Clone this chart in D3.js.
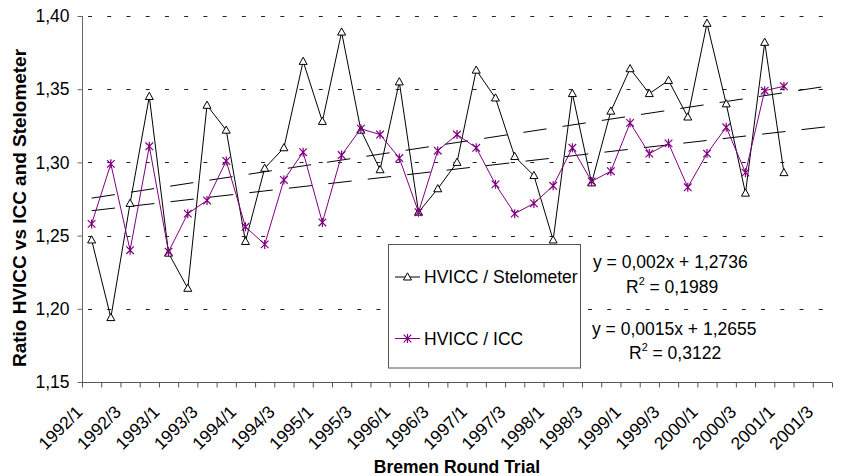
<!DOCTYPE html>
<html><head><meta charset="utf-8">
<script src="https://cdn.jsdelivr.net/npm/d3@7"></script>
<style>
body{margin:0;background:#fff}
svg{display:block}
text{font-family:"Liberation Sans",Arial,Helvetica,sans-serif;fill:#000}
</style>
</head><body>
<svg id="chart" width="842" height="476"></svg>
<script>
// ---- data ----
const categories = [
  "1992/1","1992/2","1992/3","1992/4","1993/1","1993/2","1993/3","1993/4",
  "1994/1","1994/2","1994/3","1994/4","1995/1","1995/2","1995/3","1995/4",
  "1996/1","1996/2","1996/3","1996/4","1997/1","1997/2","1997/3","1997/4",
  "1998/1","1998/2","1998/3","1998/4","1999/1","1999/2","1999/3","1999/4",
  "2000/1","2000/2","2000/3","2000/4","2001/1","2001/2","2001/3"
];
const stelometer = [
  1.247,1.194,1.272,1.345,1.238,1.214,1.339,1.322,
  1.246,1.296,1.310,1.369,1.328,1.389,1.322,1.295,
  1.355,1.266,1.282,1.300,1.363,1.344,1.304,1.291,
  1.247,1.347,1.286,1.335,1.364,1.347,1.356,1.331,
  1.395,1.340,1.279,1.382,1.293
];
const icc = [
  1.258,1.299,1.240,1.311,1.239,1.265,1.274,1.301,
  1.256,1.244,1.288,1.307,1.259,1.305,1.323,1.319,
  1.303,1.266,1.308,1.319,1.310,1.285,1.265,1.272,
  1.284,1.310,1.287,1.294,1.327,1.306,1.313,1.283,
  1.306,1.324,1.293,1.349,1.352
];
const seriesNames = ["HVICC / Stelometer","HVICC / ICC"];
const yTicks = [1.15,1.20,1.25,1.30,1.35,1.40];
const xTickLabels = categories.filter((d,i)=>i%2===0);
const trendSlopes = [0.002, 0.0015];
const trendIntercepts = [1.2736, 1.2655];
const trendRange = [1, 39.5];
const equationLabels = ["y = 0,002x + 1,2736","y = 0,0015x + 1,2655"];
const r2Values = ["0,1989","0,3122"];

// ---- layout ----
const W = 842, H = 476;
const L = 82, R = 832, T = 16, B = 382;
const FS = 17.5;
const purple = "#800080";

const svg = d3.select("#chart");
const xBand = d3.scaleBand().domain(categories).range([L, R]).padding(0);
const xLin = d3.scaleLinear().domain([0.5, categories.length + 0.5]).range([L, R]);
const y = d3.scaleLinear().domain([1.15, 1.40]).range([B, T]);
const step = xBand.step();
const fmt = v => d3.format(".2f")(v).replace(".", ",");

// gridlines
svg.append("g").selectAll("line").data(yTicks.filter(v => v > 1.15)).join("line")
  .attr("x1", L + 6).attr("x2", R)
  .attr("y1", d => Math.round(y(d)) + 0.5).attr("y2", d => Math.round(y(d)) + 0.5)
  .attr("stroke", "#222").attr("stroke-width", 1)
  .attr("stroke-dasharray", `4,${step - 4}`);

// y axis
const yAxis = svg.append("g").attr("transform", `translate(${L + 0.5},0)`)
  .call(d3.axisLeft(y).tickValues(yTicks).tickSize(5).tickPadding(8).tickFormat(fmt));
yAxis.select(".domain").attr("stroke", "#666").attr("d", `M0,${T}V${B}`);
yAxis.selectAll(".tick line").attr("stroke", "#666");
yAxis.selectAll(".tick text").attr("font-size", FS).attr("font-family", '"Liberation Sans",Arial,sans-serif');

// x axis (ticks on category boundaries)
const xAxis = svg.append("g").attr("transform", `translate(0,${B + 0.5})`)
  .call(d3.axisBottom(xLin).tickValues(d3.range(0, categories.length + 1).map(i => i + 0.5))
    .tickSize(5).tickFormat(""));
xAxis.select(".domain").attr("stroke", "#555").attr("d", `M${L},0H${R}`);
xAxis.selectAll(".tick line").attr("stroke", "#555");

// x labels
svg.append("g").selectAll("text").data(xTickLabels).join("text")
  .attr("transform", d => `translate(${xBand(d) + step / 2 - 8},${B + 31}) rotate(-45)`)
  .attr("text-anchor", "end").attr("font-size", FS).text(d => d);

// trend lines
trendSlopes.forEach((s, k) => {
  const xs = trendRange;
  svg.append("line")
    .attr("x1", xLin(xs[0])).attr("y1", y(trendIntercepts[k] + s * xs[0]))
    .attr("x2", xLin(xs[1])).attr("y2", y(trendIntercepts[k] + s * xs[1]))
    .attr("stroke", "#000").attr("stroke-width", 1)
    .attr("stroke-dasharray", "23.5,16.2");
});

// series
const line = d3.line().x((d, i) => xLin(i + 1)).y(d => y(d));
const triPath = "M0,-4.2L4,3L-4,3Z";
const starPath = "M0,-4.5V4.5M-3.8,-3.8L3.8,3.8M-3.8,3.8L3.8,-3.8";

svg.append("path").datum(stelometer).attr("d", line)
  .attr("fill", "none").attr("stroke", "#000").attr("stroke-width", 1);
svg.append("g").selectAll("path").data(stelometer).join("path")
  .attr("transform", (d, i) => `translate(${xLin(i + 1)},${y(d)})`)
  .attr("d", triPath).attr("fill", "#fff").attr("stroke", "#000").attr("stroke-width", 1);

svg.append("path").datum(icc).attr("d", line)
  .attr("fill", "none").attr("stroke", purple).attr("stroke-width", 1);
svg.append("g").selectAll("path").data(icc).join("path")
  .attr("transform", (d, i) => `translate(${xLin(i + 1)},${y(d)})`)
  .attr("d", starPath).attr("fill", "none").attr("stroke", purple).attr("stroke-width", 1.2);

// legend
const lg = svg.append("g");
lg.append("rect").attr("x", 388.5).attr("y", 244.5).attr("width", 192).attr("height", 123.5)
  .attr("fill", "#fff").attr("stroke", "#555").attr("stroke-width", 1);
const legendY = [277, 338.5];
const legendStroke = ["#000", purple];
const legendMarker = [triPath, starPath];
seriesNames.forEach((n, k) => {
  lg.append("line").attr("x1", 395).attr("x2", 420).attr("y1", legendY[k]).attr("y2", legendY[k])
    .attr("stroke", legendStroke[k]).attr("stroke-width", 1);
  lg.append("path").attr("transform", `translate(407.5,${legendY[k]})`).attr("d", legendMarker[k])
    .attr("fill", k === 0 ? "#fff" : "none").attr("stroke", legendStroke[k]).attr("stroke-width", k === 0 ? 1 : 1.2);
  lg.append("text").attr("x", 424).attr("y", legendY[k] + 6).attr("font-size", FS).text(n);
});

// equations
const eqX = [593, 592], eqY = [268, 335];
const r2X = [626, 629], r2Y = [292.5, 359];
equationLabels.forEach((e, k) => {
  svg.append("text").attr("x", eqX[k]).attr("y", eqY[k]).attr("font-size", FS).text(e);
  const t = svg.append("text").attr("x", r2X[k]).attr("y", r2Y[k]).attr("font-size", FS);
  t.append("tspan").text("R");
  t.append("tspan").attr("font-size", FS * 0.62).attr("dy", -8).text("2");
  t.append("tspan").attr("dy", 8).text(" = " + r2Values[k]);
});

// axis titles
svg.append("text").attr("x", 457).attr("y", 473).attr("text-anchor", "middle")
  .attr("font-size", FS).attr("font-weight", "bold").text("Bremen Round Trial");
svg.append("text").attr("transform", "translate(25.5,208) rotate(-90)").attr("text-anchor", "middle")
  .attr("font-size", FS).attr("font-weight", "bold")
  .attr("textLength", 318).attr("lengthAdjust", "spacingAndGlyphs")
  .text("Ratio HVICC vs ICC and Stelometer");
</script>
</body></html>
